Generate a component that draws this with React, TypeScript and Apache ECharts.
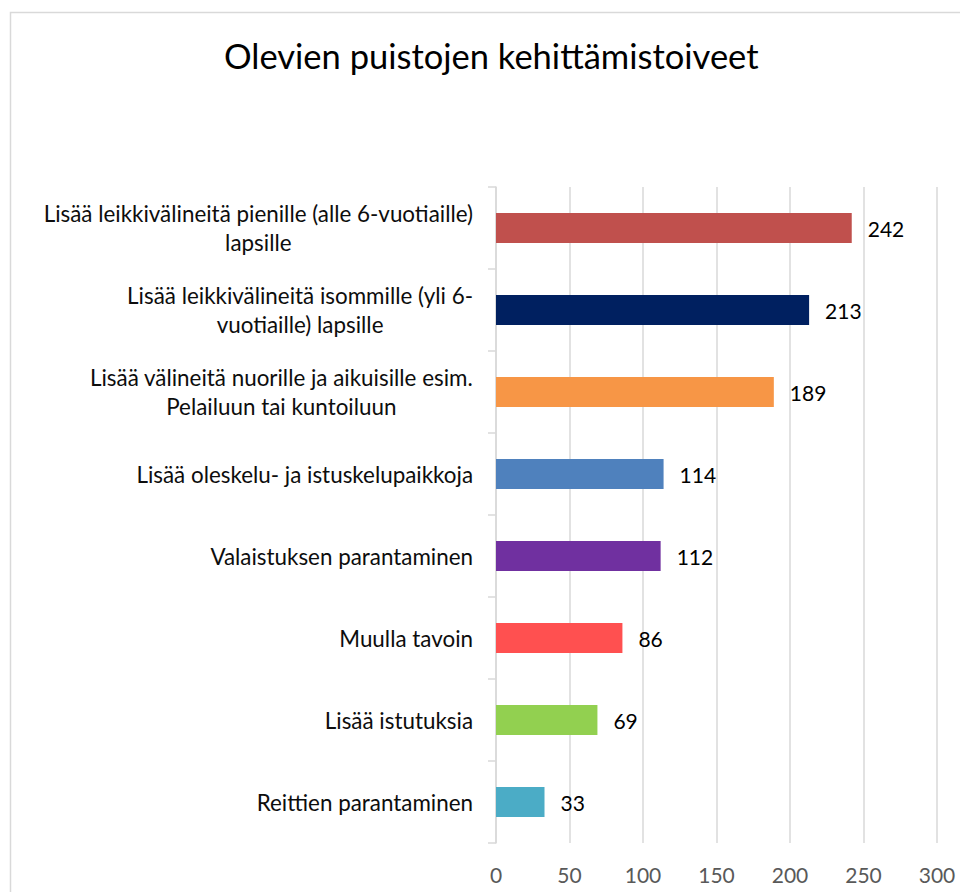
import React, { useEffect, useRef } from "react";
import * as echarts from "echarts";

const titleText = "Olevien puistojen kehittämistoiveet";
const categories = [
  "Lisää leikkivälineitä pienille (alle 6-vuotiaille)\nlapsille",
  "Lisää leikkivälineitä isommille (yli 6-\nvuotiaille) lapsille",
  "Lisää välineitä nuorille ja aikuisille esim.\nPelailuun tai kuntoiluun",
  "Lisää oleskelu- ja istuskelupaikkoja",
  "Valaistuksen parantaminen",
  "Muulla tavoin",
  "Lisää istutuksia",
  "Reittien parantaminen",
];
const values = [242, 213, 189, 114, 112, 86, 69, 33];
const barColors = ["#C0504D", "#002060", "#F79646", "#4F81BD", "#7030A0", "#FF5050", "#92D050", "#4BACC6"];
const axisMin = 0;
const axisMax = 300;
const axisInterval = 50;

const FONT = "Lato";

export default function App() {
  const ref = useRef<HTMLDivElement>(null);
  useEffect(() => {
    if (!ref.current) return;
    const chart = echarts.init(ref.current, null, { renderer: "svg" });
    chart.setOption({
      animation: false,
      backgroundColor: "#ffffff",
      title: {
        text: titleText,
        left: 219,
        top: 33,
        textStyle: { fontFamily: FONT, fontSize: 34.5, fontWeight: "normal", color: "#000000" },
      },
      graphic: [
        {
          type: "rect",
          shape: { x: 10.5, y: 12.5, width: 1000, height: 1000 },
          style: { fill: "none", stroke: "#D9D9D9", lineWidth: 1.5 },
          silent: true,
        },
      ],
      grid: { left: 496, right: 23, top: 187, bottom: 49, containLabel: false },
      xAxis: {
        type: "value",
        min: axisMin,
        max: axisMax,
        interval: axisInterval,
        axisLine: { show: false },
        axisTick: { show: false },
        splitLine: { show: true, lineStyle: { color: "#D9D9D9", width: 1.5 } },
        axisLabel: { fontFamily: FONT, fontSize: 21, color: "#595959", margin: 21 },
      },
      yAxis: {
        type: "category",
        data: categories,
        inverse: true,
        axisLine: { show: true, lineStyle: { color: "#D9D9D9", width: 1.5 } },
        axisTick: { show: true, length: 8, lineStyle: { color: "#D9D9D9", width: 1.5 } },
        axisLabel: {
          margin: 23,
          align: "right",
          formatter: (v: string) =>
            v
              .split("\n")
              .map((l) => `{c|${l}}`)
              .join("\n"),
          rich: {
            c: { fontFamily: FONT, fontSize: 22.4, color: "#0d0d0d", align: "center", lineHeight: 29 },
          },
        },
      },
      series: [
        {
          type: "bar",
          data: values.map((v, i) => ({ value: v, itemStyle: { color: barColors[i] } })),
          barWidth: 30,
          label: {
            show: true,
            position: "right",
            distance: 16,
            fontFamily: FONT,
            fontSize: 21,
            color: "#000000",
          },
        },
      ],
    });
    return () => chart.dispose();
  }, []);
  return <div ref={ref} style={{ position: "absolute", left: 0, top: 0, width: 960, height: 892 }} />;
}
